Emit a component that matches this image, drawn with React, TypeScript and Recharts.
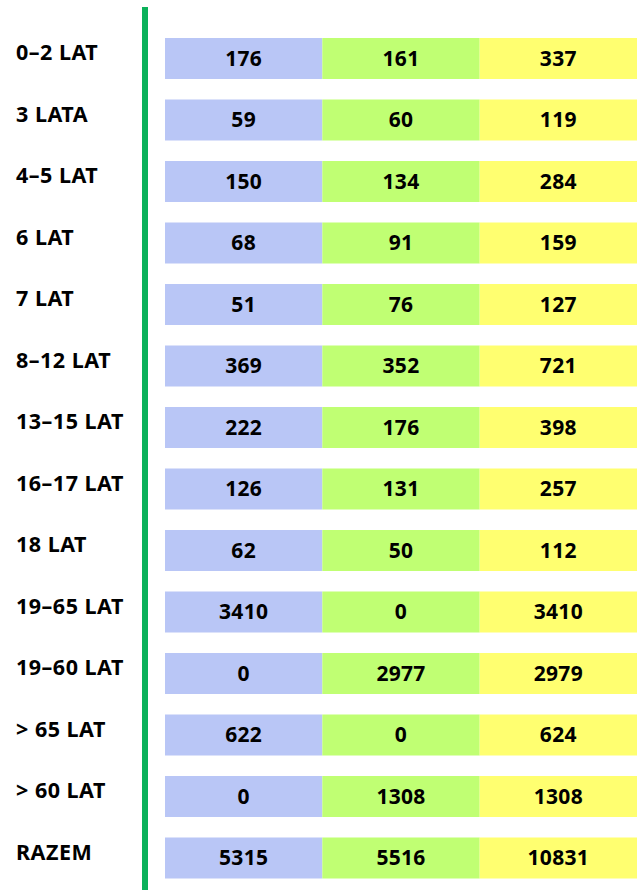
import React from "react";
import { BarChart, Bar, XAxis, YAxis, LabelList } from "recharts";

// row labels and values (boys / girls / total)
const groups = [
  "0–2 LAT",
  "3 LATA",
  "4–5 LAT",
  "6 LAT",
  "7 LAT",
  "8–12 LAT",
  "13–15 LAT",
  "16–17 LAT",
  "18 LAT",
  "19–65 LAT",
  "19–60 LAT",
  "> 65 LAT",
  "> 60 LAT",
  "RAZEM",
];
const blueValues = [176, 59, 150, 68, 51, 369, 222, 126, 62, 3410, 0, 622, 0, 5315];
const greenValues = [161, 60, 134, 91, 76, 352, 176, 131, 50, 0, 2977, 0, 1308, 5516];
const yellowValues = [337, 119, 284, 159, 127, 721, 398, 257, 112, 3410, 2979, 624, 1308, 10831];

const data = groups.map((name, i) => ({
  name,
  blue: blueValues[i],
  green: greenValues[i],
  yellow: yellowValues[i],
}));

const FONT = "'Noto Sans', 'Open Sans', sans-serif";

// every cell has the same width, like a table
const cell = () => 1;

const RowLabel = (props: any) => {
  const { y, payload } = props;
  return (
    <text
      x={16}
      y={y - 6}
      dy="0.35em"
      textAnchor="start"
      fill="#000"
      fontSize={21.5}
      fontWeight="bold"
      letterSpacing={0.5}
      fontFamily={FONT}
    >
      {payload.value}
    </text>
  );
};

const labelStyle = { fill: "#000", fontSize: 21, fontWeight: "bold", fontFamily: FONT, letterSpacing: 0.3 };

export default function App() {
  return (
    <div style={{ position: "absolute", left: 0, top: 0, width: 639, height: 890, background: "#fff" }}>
      <BarChart
        width={639}
        height={890}
        data={data}
        layout="vertical"
        margin={{ top: 7, right: 2, bottom: 0, left: 0 }}
      >
        <XAxis type="number" domain={[0, 3]} hide padding={{ left: 20, right: 0 }} />
        <YAxis
          type="category"
          dataKey="name"
          width={145}
          axisLine={{ stroke: "#0BB15A", strokeWidth: 6 }}
          tickLine={false}
          tick={<RowLabel />}
          padding={{ top: 21, bottom: 1 }}
          interval={0}
        />
        <Bar dataKey={cell} stackId="a" fill="#B9C6F6" barSize={41} isAnimationActive={false}>
          <LabelList dataKey="blue" position="center" style={labelStyle} />
        </Bar>
        <Bar dataKey={cell} stackId="a" fill="#C0FF73" barSize={41} isAnimationActive={false}>
          <LabelList dataKey="green" position="center" style={labelStyle} />
        </Bar>
        <Bar dataKey={cell} stackId="a" fill="#FFFF70" barSize={41} isAnimationActive={false}>
          <LabelList dataKey="yellow" position="center" style={labelStyle} />
        </Bar>
      </BarChart>
    </div>
  );
}
